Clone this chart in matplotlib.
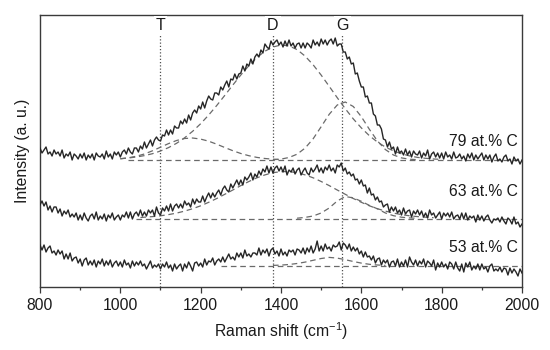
import numpy as np
import matplotlib
matplotlib.use("Agg")
import matplotlib.pyplot as plt
from matplotlib.ticker import MultipleLocator

plt.rcParams["font.family"] = ["Liberation Sans", "DejaVu Sans"]
plt.rcParams["mathtext.default"] = "regular"

# Raman shift grid of the measured spectra (cm-1)
SHIFT = np.arange(800, 2001, 5)

SPEC_79 = [
    139, 134, 137, 140, 133, 135, 131, 137, 133, 135,
    131, 137, 129, 133, 131, 135, 127, 133, 131, 128,
    133, 129, 134, 127, 132, 129, 133, 127, 134, 131,
    130, 133, 128, 136, 130, 133, 128, 135, 132, 135,
    130, 135, 137, 133, 139, 135, 133, 139, 139, 135,
    141, 138, 145, 139, 143, 147, 141, 147, 150, 147,
    146, 152, 151, 157, 152, 157, 153, 161, 159, 159,
    166, 163, 168, 164, 172, 167, 174, 177, 174, 181,
    178, 185, 179, 186, 191, 188, 187, 194, 194, 192,
    200, 197, 202, 206, 200, 208, 207, 213, 208, 213,
    214, 221, 216, 223, 221, 228, 223, 230, 233, 230,
    237, 234, 243, 240, 238, 246, 242, 245, 247, 242,
    245, 240, 246, 241, 247, 241, 244, 239, 243, 244,
    239, 244, 239, 244, 242, 239, 247, 242, 245, 241,
    248, 243, 247, 242, 246, 248, 243, 249, 241, 243,
    243, 235, 235, 228, 230, 223, 224, 213, 214, 206,
    200, 200, 190, 191, 184, 184, 173, 171, 162, 162,
    158, 148, 147, 140, 145, 138, 140, 133, 140, 134,
    136, 132, 138, 132, 136, 130, 136, 133, 132, 136,
    129, 134, 131, 137, 128, 133, 135, 130, 134, 129,
    134, 128, 135, 130, 132, 128, 135, 129, 130, 133,
    128, 131, 126, 133, 129, 134, 127, 132, 128, 131,
    134, 127, 132, 128, 132, 125, 130, 133, 126, 128,
    125, 130, 132, 126, 128, 123, 130, 126, 128, 123,
    127,
]
SPEC_63 = [
    82, 86, 81, 85, 77, 81, 75, 80, 80, 74,
    78, 71, 76, 73, 77, 70, 73, 70, 74, 67,
    72, 67, 74, 69, 66, 71, 73, 68, 75, 67,
    71, 68, 73, 66, 72, 69, 74, 67, 70, 72,
    67, 72, 70, 75, 69, 75, 68, 73, 75, 71,
    77, 71, 75, 71, 77, 74, 77, 71, 80, 74,
    72, 79, 76, 81, 76, 83, 76, 81, 83, 79,
    83, 79, 86, 82, 84, 80, 88, 83, 88, 85,
    85, 91, 85, 90, 94, 89, 94, 90, 94, 97,
    92, 98, 101, 97, 95, 103, 99, 103, 107, 102,
    107, 102, 110, 107, 110, 114, 107, 113, 110, 116,
    112, 118, 115, 121, 114, 120, 114, 119, 121, 116,
    120, 115, 121, 112, 117, 115, 119, 113, 117, 119,
    112, 116, 119, 114, 112, 119, 115, 118, 122, 115,
    119, 114, 120, 117, 122, 116, 119, 114, 122, 120,
    124, 116, 119, 113, 115, 111, 113, 107, 108, 103,
    107, 101, 102, 94, 99, 92, 93, 87, 90, 85,
    86, 80, 82, 83, 75, 80, 76, 80, 74, 77,
    72, 79, 73, 76, 77, 70, 76, 73, 77, 72,
    76, 70, 74, 69, 77, 72, 74, 69, 72, 75,
    68, 74, 71, 74, 70, 75, 68, 71, 72, 68,
    74, 68, 74, 67, 71, 69, 71, 65, 72, 67,
    71, 66, 70, 72, 67, 64, 68, 67, 69, 65,
    70, 66, 63, 69, 67, 63, 70, 63, 65, 60,
    63,
]
SPEC_53 = [
    42, 37, 42, 35, 39, 41, 34, 36, 32, 37,
    33, 36, 28, 33, 28, 34, 26, 29, 30, 24,
    28, 21, 27, 29, 22, 26, 22, 27, 20, 26,
    23, 28, 21, 26, 22, 27, 20, 24, 26, 21,
    25, 20, 27, 22, 24, 19, 26, 21, 25, 22,
    26, 21, 23, 18, 22, 26, 19, 22, 20, 23,
    18, 23, 20, 25, 19, 22, 16, 23, 18, 21,
    23, 16, 23, 19, 25, 21, 16, 24, 25, 21,
    24, 20, 28, 22, 26, 25, 29, 22, 26, 28,
    25, 30, 25, 29, 33, 28, 30, 27, 34, 30,
    34, 29, 37, 31, 33, 30, 34, 34, 32, 39,
    32, 37, 34, 38, 31, 37, 39, 33, 36, 31,
    38, 32, 35, 31, 37, 35, 37, 32, 38, 37,
    34, 39, 33, 39, 35, 41, 34, 38, 46, 36,
    41, 36, 43, 38, 40, 36, 42, 40, 41, 45,
    37, 44, 42, 38, 43, 36, 40, 36, 39, 33,
    36, 30, 35, 30, 31, 27, 31, 24, 28, 29,
    22, 27, 24, 27, 20, 25, 26, 21, 28, 20,
    25, 21, 27, 20, 30, 25, 22, 27, 21, 26,
    23, 28, 20, 26, 24, 21, 27, 17, 24, 20,
    25, 20, 23, 18, 25, 23, 18, 25, 19, 16,
    23, 15, 24, 20, 25, 17, 21, 18, 23, 17,
    23, 18, 20, 15, 21, 23, 16, 18, 16, 20,
    15, 19, 18, 12, 19, 14, 18, 15, 11, 18,
    14,
]

# fitted baselines: (level, start of the fit range)
BASE_79 = (127.0, 1020)
BASE_63 = (68.5, 1040)
BASE_53 = (21.3, 1250)

# fitted bands (dashed)
T79_X = list(range(1000, 1401, 20))
T79_Y = [128.2, 129.2, 130.8, 133.0, 136.2, 139.8, 143.4, 146.5, 148.5, 149.0,
         147.9, 145.8, 142.8, 139.5, 136.3, 133.5, 131.3, 129.6, 128.5, 127.8,
         127.4]
D79_X = list(range(1000, 1801, 20))
D79_Y = [128.3, 129.0, 130.0, 131.4, 133.3, 136.0, 139.4, 143.7, 149.2, 155.7,
         163.3, 172.0, 181.5, 191.6, 201.9, 212.0, 221.3, 229.5, 235.8, 240.0,
         242.0, 241.1, 237.4, 230.9, 222.2, 211.9, 200.7, 189.3, 178.3, 168.1,
         159.1, 151.3, 145.0, 139.9, 136.1, 133.2, 131.1, 129.6, 128.7, 128.0,
         127.6]
G79_X = list(range(1380, 1741, 20))
G79_Y = [127.3, 127.9, 129.5, 132.8, 138.9, 148.2, 160.3, 172.7, 182.0, 185.0,
         180.5, 170.3, 157.7, 146.1, 137.4, 132.0, 129.1, 127.8, 127.3]

D63_X = [1050] + list(range(1080, 1781, 20))
D63_Y = [69.5, 70.4, 71.2, 72.4, 73.9, 75.9, 78.3, 81.2, 84.7, 88.5,
         92.7, 97.0, 101.4, 105.5, 109.2, 112.1, 114.3, 115.4, 115.4, 114.3,
         112.1, 109.2, 105.5, 101.4, 97.0, 92.7, 88.5, 84.7, 81.2, 78.3,
         75.9, 73.9, 72.4, 71.2, 70.4, 69.8, 69.3]
G63_X = list(range(1440, 1741, 20))
G63_Y = [68.8, 69.6, 71.0, 74.0, 79.0, 86.0, 90.5, 89.1, 85.7, 81.6,
         78.2, 74.0, 71.3, 69.8, 69.1, 68.7]

G53_X = list(range(1380, 1661, 20))
G53_Y = [21.6, 21.9, 22.5, 23.5, 24.9, 26.7, 28.5, 29.6, 28.9, 27.3,
         25.5, 23.9, 22.7, 22.0, 21.6]

# band positions marked with dotted lines
BANDS = {"T": 1100, "D": 1380, "G": 1553}

# sample labels: (text, height)
SAMPLES = [("79 at.% C", 145.3), ("63 at.% C", 95.0), ("53 at.% C", 39.3)]

SPEC_COLOR = "#262626"
FIT_COLOR = "#6a6a6a"
AX_COLOR = "#3a3a3a"


def main():
    fig = plt.figure(figsize=(5.5, 3.5), dpi=100)
    ax = fig.add_axes([40 / 550, 1 - 287 / 350, 482 / 550, 272 / 350])

    for name, pos in BANDS.items():
        ax.axvline(pos, color="#505050", lw=0.9, ls=(0, (1, 1.6)), zorder=1)
        ax.text(pos, 261, name, ha="center", va="center", fontsize=11.5,
                color="#1a1a1a", zorder=4,
                bbox=dict(fc="white", ec="none", pad=1.5))

    fit_kw = dict(color=FIT_COLOR, lw=0.9, ls=(0, (4.5, 3)), zorder=2)
    for level, start in (BASE_79, BASE_63, BASE_53):
        ax.plot([start, 2000], [level, level], **fit_kw)
    ax.plot(T79_X, T79_Y, **fit_kw)
    ax.plot(D79_X, D79_Y, **fit_kw)
    ax.plot(G79_X, G79_Y, **fit_kw)
    ax.plot(D63_X, D63_Y, **fit_kw)
    ax.plot(G63_X, G63_Y, **fit_kw)
    ax.plot(G53_X, G53_Y, **fit_kw)

    for spec in (SPEC_79, SPEC_63, SPEC_53):
        ax.plot(SHIFT, spec, color=SPEC_COLOR, lw=1.0, zorder=3)

    for text, y in SAMPLES:
        ax.text(1990, y, text, ha="right", va="center", fontsize=11.3,
                color="#1a1a1a", zorder=5)

    ax.set_xlim(800, 2000)
    ax.set_ylim(0, 272)
    ax.set_yticks([])
    ax.xaxis.set_major_locator(MultipleLocator(200))
    ax.xaxis.set_minor_locator(MultipleLocator(100))
    ax.tick_params(axis="x", which="major", direction="out", length=4,
                   width=0.9, pad=4, labelsize=11.3, colors=AX_COLOR,
                   labelcolor="#1a1a1a")
    ax.tick_params(axis="x", which="minor", direction="out", length=2.5,
                   width=0.9, colors=AX_COLOR)
    for sp in ax.spines.values():
        sp.set_color(AX_COLOR)
        sp.set_linewidth(1.0)

    ax.set_xlabel("Raman shift (cm$^{-1}$)", fontsize=11.3, color="#1a1a1a",
                  labelpad=5)
    ax.set_ylabel("Intensity (a. u.)", fontsize=11.3, color="#1a1a1a",
                  labelpad=7)

    fig.savefig("out.png", dpi=100)


if __name__ == "__main__":
    main()
